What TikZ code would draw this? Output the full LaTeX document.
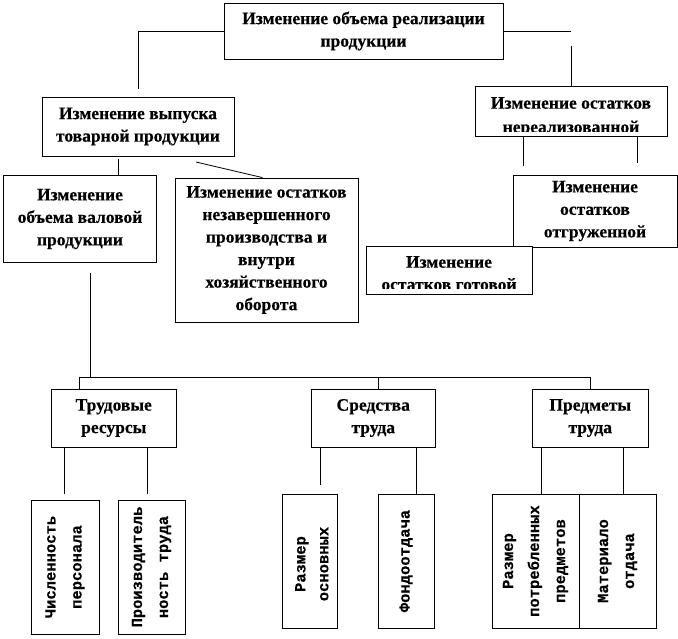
\documentclass[tikz,border=0pt]{standalone}
\usepackage{fontspec}
\setmainfont{Liberation Serif}[BoldFeatures={FakeBold=0.4}]
\newfontfamily\monofont{Liberation Mono}[BoldFeatures={FakeBold=0.4}]
\tikzset{
  box/.style={draw, line width=0.8pt, align=center, inner sep=0pt,
    font=\bfseries\fontsize{17.5}{22.5}\selectfont},
  boxtext/.style={align=center, inner sep=0pt,
    font=\bfseries\fontsize{17.5}{22.5}\selectfont},
  vbox/.style={draw, line width=0.8pt, align=center, inner sep=0pt, rotate=90,
    font=\monofont\bfseries\fontsize{15.5}{26}\selectfont},
  vboxtext/.style={align=center, inner sep=0pt, rotate=90,
    font=\monofont\bfseries\fontsize{15.5}{23}\selectfont},
  link/.style={line width=0.8pt},
}
\begin{document}
\begin{tikzpicture}[x=1pt,y=-1pt]
  \useasboundingbox (0,0) rectangle (678,638);
  % upper boxes
  \node[box, minimum width=279pt, minimum height=56pt] (sales) at (363.5,31)
    {Изменение объема реализации\\продукции};
  \node[box, minimum width=192pt, minimum height=59pt] (output) at (138,126.5)
    {Изменение выпуска\\товарной продукции};
  \node[box, minimum width=192pt, minimum height=50pt] (unsold) at (571,111) {};
  \node[box, minimum width=153pt, minimum height=87pt] (gross) at (80,219)
    {Изменение\\объема валовой\\продукции};
  \node[box, minimum width=183pt, minimum height=144pt] (wip) at (266.5,250)
    {Изменение остатков\\незавершенного\\производства и\\внутри\\хозяйственного\\оборота};
  \node[box, minimum width=164pt, minimum height=72pt] (shipped) at (595,211)
    {Изменение\\остатков\\отгруженной};
  \node[box, fill=white, minimum width=166pt, minimum height=48pt] (finished) at (449,270) {};
  % text cut by its box
  \begin{scope}
    \clip ([yshift=5pt]unsold.south west) rectangle (unsold.north east);
    \node[boxtext, anchor=north, font=\bfseries\fontsize{17.5}{24}\selectfont] (unsoldtext)
      at (571,97) {Изменение остатков\\нереализованной\\продукции};
  \end{scope}
  \begin{scope}
    \clip ([yshift=6pt]finished.south west) rectangle (finished.north east);
    \node[boxtext, anchor=north] (finishedtext) at (449,256)
      {Изменение\\остатков готовой\\продукции};
  \end{scope}
  % resources
  \node[box, minimum width=124.5pt, minimum height=58pt] (labor) at (113.75,418)
    {Трудовые\\ресурсы};
  \node[box, minimum width=124.5pt, minimum height=58pt] (means) at (373.25,418)
    {Средства\\труда};
  \node[box, minimum width=116.5pt, minimum height=58pt] (objects) at (590.25,418)
    {Предметы\\труда};
  % factors (vertical text)
  \node[vbox, minimum width=134pt, minimum height=68pt] (staff) at (65,567)
    {Численность\\персонала};
  \node[vbox, minimum width=134pt, minimum height=67pt] (product) at (151.5,567)
    {Производитель\\ность труда};
  \node[vbox, minimum width=134pt, minimum height=55pt] (fixed) at (309.5,561) {};
  \node[vbox, minimum width=134pt, minimum height=56pt] (return) at (406,561)
    {Фондоотдача};
  \node[vbox, minimum width=134pt, minimum height=87pt] (used) at (535.5,561)
    {Размер\\потребленных\\предметов};
  \node[vbox, minimum width=134pt, minimum height=77pt] (matret) at (617.5,561)
    {Материало\\отдача};
  \begin{scope}
    \clip ([xshift=-9pt]fixed.south west) rectangle (fixed.north east);
    \node[vboxtext, anchor=north] (fixedtext) at (295,564)
      {Размер\\основных\\средств};
  \end{scope}
  % connectors, top
  \coordinate (c1) at (138,89);
  \coordinate (c2) at (571,31);
  \coordinate (c3) at (571,46);
  \draw[link] (sales.west) -| (c1);
  \draw[link] (sales.east) -- (c2);
  \draw[link] (c3) -- (unsold.north);
  \coordinate (c4) at (118,159);
  \draw[link] (c4) -- (c4 |- gross.north);
  \coordinate (c5) at (196,162);
  \draw[link] (c5) -- ([xshift=-4pt]wip.north);
  \coordinate (c6) at (523,166);
  \coordinate (c7) at (637,163);
  \draw[link] (c6 |- unsold.south) -- (c6);
  \draw[link] (c7 |- unsold.south) -- (c7);
  % connectors, resources
  \coordinate (c8) at (90,273);
  \coordinate (bus) at (90,377);
  \coordinate (b1) at (79,377);
  \coordinate (b2) at (378,377);
  \coordinate (b3) at (590,377);
  \draw[link] (c8) -- (bus);
  \draw[link] (b1) -- (b3);
  \draw[link] (b1) -- (b1 |- labor.north);
  \draw[link] (b2) -- (b2 |- means.north);
  \draw[link] (b3) -- (b3 |- objects.north);
  % connectors, factors
  \foreach \name/\xx/\yy/\parent in {d1/64/494/labor, d2/147/494/labor, d3/320/485/means,
      d4/416/494/means, d5/541/494/objects, d6/623/494/objects} {
    \coordinate (\name) at (\xx,\yy);
    \draw[link] (\name |- \parent.south) -- (\name);
  }
\end{tikzpicture}
\end{document}
